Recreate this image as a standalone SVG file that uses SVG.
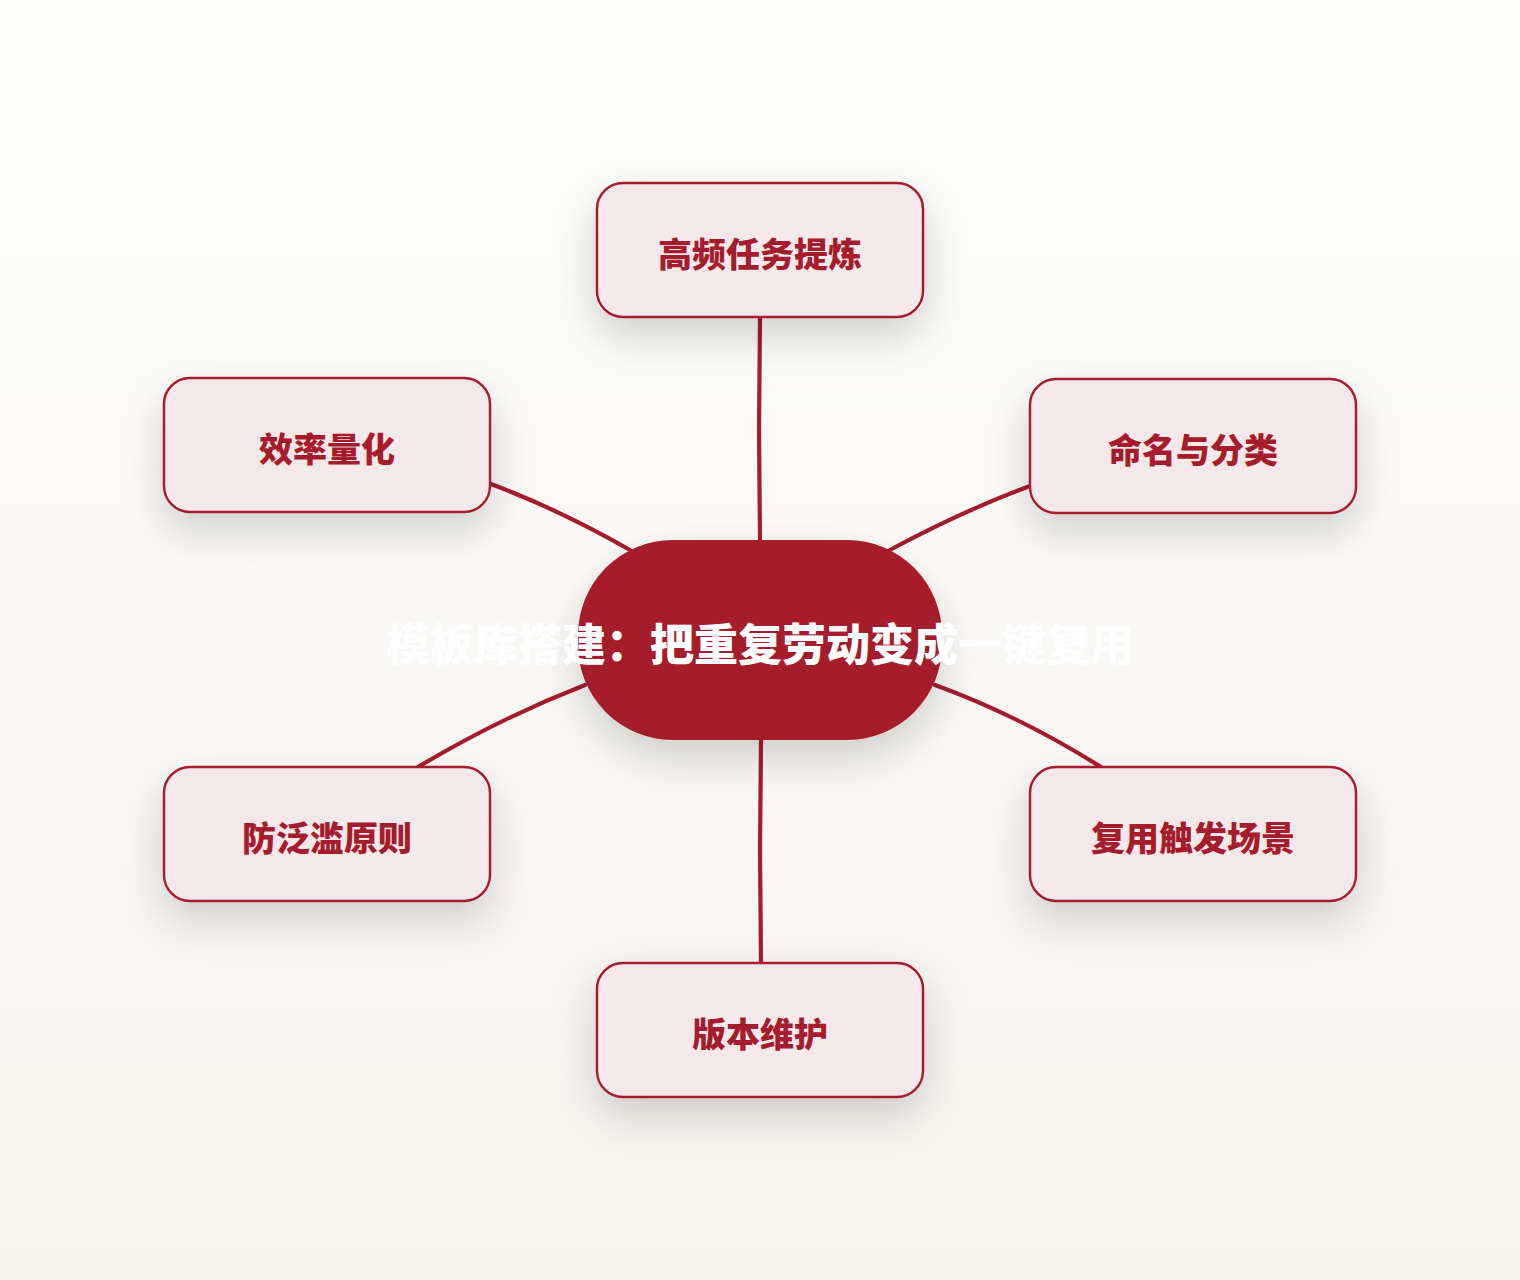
<svg xmlns="http://www.w3.org/2000/svg" width="1520" height="1280" viewBox="0 0 1520 1280">
<defs>
<linearGradient id="bg" x1="0" y1="0" x2="0" y2="1">
<stop offset="0" stop-color="#fdfdfc"/>
<stop offset="1" stop-color="#f7f4ef"/>
</linearGradient>
<filter id="sh" x="-40%" y="-40%" width="180%" height="200%">
<feDropShadow dx="0" dy="18" stdDeviation="20" flood-color="#000" flood-opacity="0.17"/>
</filter>
</defs>
<style>
.node rect{fill:#f5e8eb;stroke:#a51c2c;stroke-width:2.4;filter:url(#sh)}
.node text{fill:#a51c2c;font-family:"Noto Sans CJK SC","Noto Sans",sans-serif;font-weight:900;font-size:34px;text-anchor:middle;dominant-baseline:central}
.conn path{fill:none;stroke:#a51c2c;stroke-width:4.2;stroke-linecap:round}
.center rect{fill:#a51c2c;filter:url(#sh)}
.center text{fill:#fff;font-family:"Noto Sans CJK SC","Noto Sans",sans-serif;font-weight:900;font-size:44px;text-anchor:middle;dominant-baseline:central}
</style>
<rect width="1520" height="1280" fill="url(#bg)"/>
<g id="connectors" class="conn">
<path d="M760,318 L759,430 L760,540"/>
<path d="M491,484 Q560,510 630,550"/>
<path d="M1030,486 Q960,512 888,551"/>
<path d="M418,767 Q500,718 585,685"/>
<path d="M1101,767 Q1020,716 935,685"/>
<path d="M761,740 L760,850 L761,963"/>
</g>
<g id="center" class="center">
<rect x="578" y="540" width="364" height="200" rx="95" ry="95"/>
<text x="760" y="642">模板库搭建：把重复劳动变成一键复用</text>
</g>
<g id="n1" class="node">
<rect x="597" y="183" width="326" height="134" rx="26"/>
<text x="760" y="252">高频任务提炼</text>
</g>
<g id="n2" class="node">
<rect x="1030" y="379" width="326" height="134" rx="26"/>
<text x="1193" y="448">命名与分类</text>
</g>
<g id="n3" class="node">
<rect x="1030" y="767" width="326" height="134" rx="26"/>
<text x="1193" y="836">复用触发场景</text>
</g>
<g id="n4" class="node">
<rect x="597" y="963" width="326" height="134" rx="26"/>
<text x="760" y="1032">版本维护</text>
</g>
<g id="n5" class="node">
<rect x="164" y="767" width="326" height="134" rx="26"/>
<text x="327" y="836">防泛滥原则</text>
</g>
<g id="n6" class="node">
<rect x="164" y="378" width="326" height="134" rx="26"/>
<text x="327" y="447">效率量化</text>
</g>
</svg>
